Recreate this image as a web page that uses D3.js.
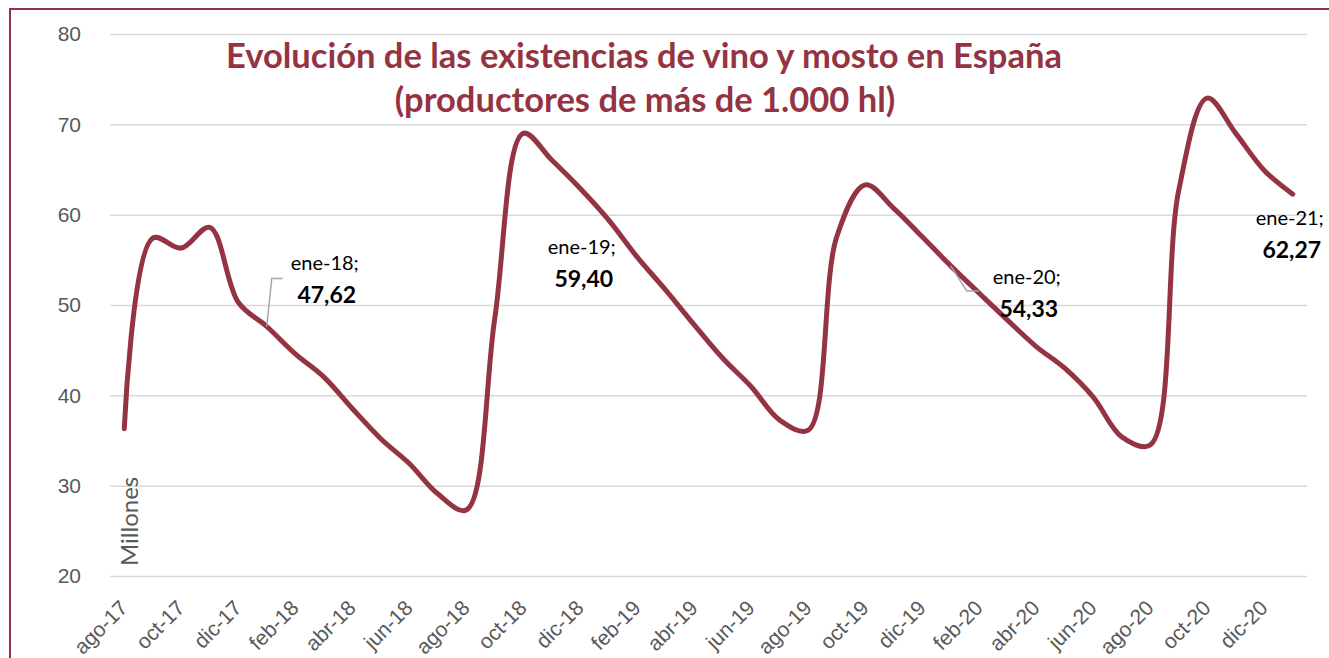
<!DOCTYPE html>
<html>
<head>
<meta charset="utf-8">
<script src="https://cdn.jsdelivr.net/npm/d3@7"></script>
<style>
  body { margin: 0; background: #fff; }
  svg { display: block; font-family: Lato, "Open Sans", sans-serif; }
  .grid line { stroke: #d9d9d9; stroke-width: 1.5; }
  .axis text { fill: #595959; }
</style>
</head>
<body>
<svg id="chart" width="1329" height="658"></svg>
<script>
// month categories (ago-17 .. ene-21)
const months = [
  'ago-17','sep-17','oct-17','nov-17','dic-17',
  'ene-18','feb-18','mar-18','abr-18','may-18','jun-18','jul-18','ago-18','sep-18','oct-18','nov-18','dic-18',
  'ene-19','feb-19','mar-19','abr-19','may-19','jun-19','jul-19','ago-19','sep-19','oct-19','nov-19','dic-19',
  'ene-20','feb-20','mar-20','abr-20','may-20','jun-20','jul-20','ago-20','sep-20','oct-20','nov-20','dic-20',
  'ene-21'
]
// existencias, millones de hl
const stocks = [
  36.3, 57.4, 56.3, 58.6, 50.3,
  47.62, 44.6, 42.05, 38.55, 35.2, 32.45, 29.1, 27.3, 48.5, 69.0, 66.05, 62.9,
  59.40, 55.3, 51.65, 47.8, 44.1, 40.95, 37.25, 36.15, 57.55, 63.3, 60.7, 57.55,
  54.33, 51.3, 48.3, 45.4, 43.0, 39.8, 35.4, 34.5, 62.7, 72.9, 69.0, 64.9,
  62.27
]
const xTickLabels = months.filter((m, i) => i % 2 == 0)
const yTicks = [20, 30, 40, 50, 60, 70, 80]
// labelled points: month, label lines
const labels = [
  {month: 'ene-18', name: 'ene-18;', value: '47,62', dx: 58, dy: -56},
  {month: 'ene-19', name: 'ene-19;', value: '59,40', dx: -27, dy: 34},
  {month: 'ene-20', name: 'ene-20;', value: '54,33', dx: 76, dy: 18},
  {month: 'ene-21', name: 'ene-21;', value: '62,27', dx: -3, dy: 31}
]

const red = '#943342'
const svg = d3.select('#chart')
const mLeft = 110, mRight = 1307, mTop = 34, mBottom = 576

const x = d3.scalePoint().domain(months).range([mLeft, mRight]).padding(0.5)
const y = d3.scaleLinear().domain([20, 80]).range([mBottom, mTop])

// frame
svg.append('rect').attr('x', 10).attr('y', 9).attr('width', 1340).attr('height', 680)
  .attr('fill', 'none').attr('stroke', red).attr('stroke-width', 2)

// grid + y labels
const gy = svg.append('g').attr('class', 'axis grid').attr('transform', `translate(${mLeft},0)`)
  .call(d3.axisLeft(y).tickValues(yTicks).tickSize(-(mRight - mLeft)).tickPadding(29))
gy.select('.domain').remove()
gy.selectAll('text').attr('font-size', 21)

// x labels
const gx = svg.append('g').attr('class', 'axis').attr('transform', `translate(0,${mBottom})`)
  .call(d3.axisBottom(x).tickValues(xTickLabels).tickSize(0))
gx.select('.domain').remove()
gx.selectAll('text')
  .attr('font-size', 21)
  .attr('text-anchor', 'end')
  .attr('y', 0).attr('dy', '0.35em')
  .attr('transform', 'translate(-1,28) rotate(-45)')

svg.append('text').attr('class', 'axis')
  .attr('transform', `translate(138,566) rotate(-90)`)
  .attr('font-size', 24).attr('fill', '#595959')
  .text('Millones')

// line
svg.append('path').datum(stocks)
  .attr('fill', 'none').attr('stroke', red).attr('stroke-width', 5)
  .attr('stroke-linecap', 'round').attr('stroke-linejoin', 'round')
  .attr('d', d3.line().x((d, i) => x(months[i])).y(d => y(d)).curve(d3.curveCatmullRom.alpha(0.5)))

// data labels
const lbl = svg.append('g').attr('font-size', 20).attr('text-anchor', 'middle')
labels.forEach(l => {
  const i = months.indexOf(l.month)
  const px = x(l.month), py = y(stocks[i])
  const g = lbl.append('g').attr('transform', `translate(${px + l.dx},${py + l.dy})`)
  g.append('text').attr('x', 0).attr('y', 0).text(l.name)
  g.append('text').attr('x', 2).attr('y', 33).attr('font-weight', 'bold').attr('font-size', 23).text(l.value)
})
// leader lines
svg.append('path').attr('fill', 'none').attr('stroke', '#a6a6a6').attr('stroke-width', 1.5)
  .attr('d', `M${x('ene-18') + 16},${y(stocks[5]) - 48}h-11L${x('ene-18')},${y(stocks[5])}`)
svg.append('path').attr('fill', 'none').attr('stroke', '#a6a6a6').attr('stroke-width', 1.5)
  .attr('d', `M${x('ene-20')},${y(stocks[29])}L${x('ene-20') + 16},${y(stocks[29]) + 25}h12`)

// title
const title = svg.append('g').attr('fill', red).attr('font-weight', 'bold').attr('font-size', 34.5)
  .attr('text-anchor', 'middle')
title.append('text').attr('x', 644).attr('y', 68).text('Evolución de las existencias de vino y mosto en España')
title.append('text').attr('x', 645).attr('y', 112).text('(productores de más de 1.000 hl)')
</script>
</body>
</html>
